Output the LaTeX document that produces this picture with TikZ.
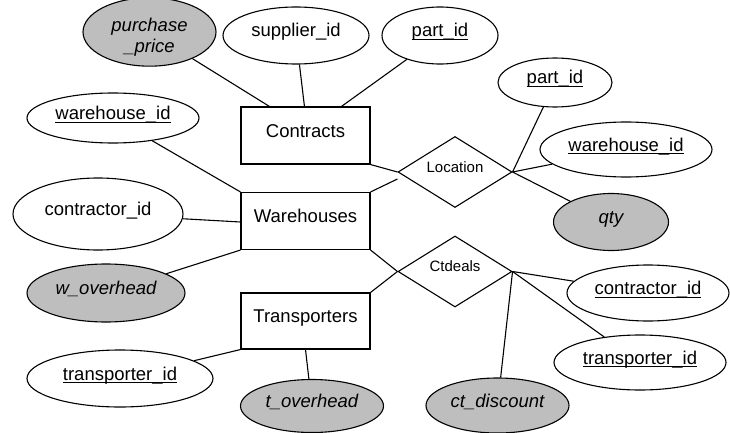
\documentclass[tikz,border=0pt]{standalone}
\usepackage{fontspec}
\setmainfont{Liberation Sans}
\usetikzlibrary{shapes.geometric}
\definecolor{attrgray}{RGB}{190,190,190}
% key attribute: text with a rule just under its baseline
\newcommand{\keyattr}[1]{\setbox0=\hbox{#1}\rlap{\rule[-3pt]{\wd0}{1pt}}\box0}

\begin{document}
\begin{tikzpicture}[x=1pt, y=-1pt, line width=1.1pt,
  base/.style={draw, inner sep=0pt, text height=13.5pt, text depth=10.5pt,
    font=\fontsize{18.5}{22}\selectfont},
  attr/.style={base, ellipse},
  derived/.style={attr, fill=attrgray, font=\fontsize{18.5}{21}\selectfont\itshape},
  entity/.style={base, rectangle, minimum width=129pt},
  relation/.style={base, diamond, aspect=1.6, text height=11pt, text depth=11pt,
    font=\fontsize{15}{18}\selectfont, minimum width=114pt, minimum height=71pt}]

\useasboundingbox (0,0) rectangle (730,433);

% entities
\node[entity, minimum height=57pt] (con) at (305.5,135.5) {Contracts};
\node[entity, minimum height=57pt] (wh)  at (305.5,221)   {Warehouses};
\node[entity, minimum height=56pt] (tr)  at (305.5,321)   {Transporters};

% relationships
\node[relation] (loc) at (455,172)   {Location};
\node[relation] (ctd) at (455,271.5) {Ctdeals};

% attributes
\node[derived, minimum width=133pt, minimum height=62pt, align=center,
      text height=, text depth=] (pp) at (149.5,32)
      {\rule{0pt}{23.5pt}purchase\\\_price};
\node[attr, minimum width=146pt, minimum height=57pt] (sup)   at (296,35.5)  {supplier\_id};
\node[attr, minimum width=116pt, minimum height=57pt] (pid1)  at (440,35.5)  {\keyattr{part\_id}};
\node[attr, minimum width=114pt, minimum height=49pt] (pid2)  at (555,82.5)  {\keyattr{part\_id}};
\node[attr, minimum width=172pt, minimum height=55pt] (whid2) at (626,149.5) {\keyattr{warehouse\_id}};
\node[derived, minimum width=115pt, minimum height=57pt] (qty) at (611,222)  {qty};
\node[attr, minimum width=172pt, minimum height=50pt] (whid1) at (113,118)   {\keyattr{warehouse\_id}};
\node[attr, minimum width=170pt, minimum height=72pt] (cid1)  at (98,214)    {contractor\_id};
\node[derived, minimum width=158pt, minimum height=58pt] (wov) at (106,293)  {w\_overhead};
\node[attr, minimum width=186pt, minimum height=57pt] (tid1)  at (120,378.5) {\keyattr{transporter\_id}};
\node[derived, minimum width=143pt, minimum height=53pt] (tov) at (312,406)  {t\_overhead};
\node[derived, minimum width=143pt, minimum height=55pt] (disc) at (497.5,405.5) {ct\_discount};
\node[attr, minimum width=162pt, minimum height=56pt] (cid2)  at (648,293)   {\keyattr{contractor\_id}};
\node[attr, minimum width=172pt, minimum height=55pt] (tid2)  at (640,362.5) {\keyattr{transporter\_id}};

% Contracts attributes
\draw (pp)   -- ([xshift=29pt]con.north west);
\draw (sup)  -- ([xshift=64pt]con.north west);
\draw (pid1) -- ([xshift=101pt]con.north west);

% Warehouses attributes
\draw (whid1) -- (wh.north west);
\draw (cid1)  -- ([yshift=-1pt]wh.west);
\draw (wov)   -- (wh.south west);

% Transporters attributes
\draw (tid1) -- (tr.south west);
\draw (tov)  -- (tr.south);

% Location
\draw (con.south east) -- (loc.west);
\draw (wh.north east)  -- ([yshift=-7pt]loc.west);
\draw (loc.east) -- (pid2);
\draw (loc.east) -- (whid2);
\draw (loc.east) -- (qty);

% Ctdeals
\draw (wh.south east) -- (ctd.west);
\draw (tr.north east) -- (ctd.west);
\draw (ctd.east) -- (cid2);
\draw (ctd.east) -- (tid2);
\draw (ctd.east) -- (disc);
\end{tikzpicture}
\end{document}
